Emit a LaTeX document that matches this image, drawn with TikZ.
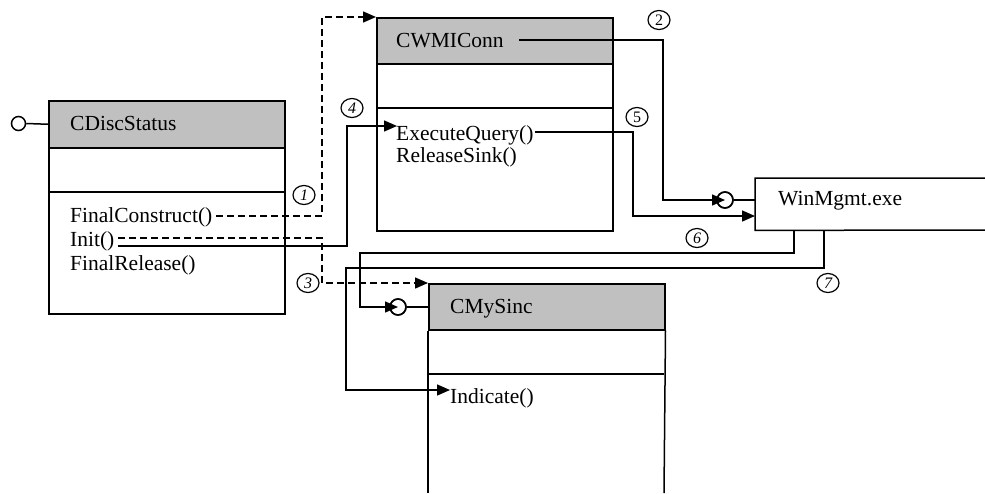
\documentclass[tikz,border=0pt]{standalone}
\usepackage{fontspec}
\setmainfont{Liberation Serif}
\usetikzlibrary{arrows.meta,shapes.geometric,calc}
\definecolor{hgray}{HTML}{C0C0C0}
\begin{document}
\begin{tikzpicture}[x=1pt,y=-1pt,
  ln/.style={line width=1.5pt},
  arr/.style={-{Triangle[length=13pt,width=11pt]}},
  dsh/.style={dash pattern=on 7pt off 4pt},
  hdr/.style={draw,fill=hgray,line width=1.5pt,anchor=north west,inner sep=0pt,minimum width=236pt},
  bdy/.style={draw,line width=1.5pt,anchor=north west,inner sep=0pt,minimum width=236pt},
  txt/.style={anchor=base west,inner sep=0pt,font=\fontsize{21.5}{25}\selectfont},
  num/.style={draw,ellipse,line width=1.2pt,inner sep=0pt,minimum width=22pt,minimum height=19pt,font=\fontsize{16}{16}\selectfont},
  lolli/.style={draw,circle,line width=1.5pt,inner sep=0pt,fill=white}]
\useasboundingbox (0,0) rectangle (985,493);

% CDiscStatus
\node[bdy,minimum height=166pt] (b1) at (48,147) {};
\node[hdr,minimum height=47pt] (h1) at (48,100) {};
\draw[ln] (48,192) -- (284,192);
\node[lolli,minimum size=14pt] (lp1) at (18.5,123.5) {};
\draw[ln] (lp1.east) -- (h1.west);
\node[txt] (t1) at (70,130) {CDiscStatus};
\node[txt] (fc) at (70,222) {FinalConstruct()};
\node[txt] (in) at (70,246) {Init()};
\node[txt] (fr) at (70,270) {FinalRelease()};

% CWMIConn
\node[bdy,minimum height=167pt] (b2) at (376,63) {};
\node[hdr,minimum height=46pt] (h2) at (376,17) {};
\draw[ln] (376,108) -- (612,108);
\node[txt] (t2) at (396,47) {CWMIConn};
\node[txt] (eq) at (396,140) {ExecuteQuery()};
\node[txt] (rs) at (396,162) {ReleaseSink()};

% WinMgmt
\node[inner sep=0pt,minimum width=230pt,minimum height=52pt,anchor=north west] (wm) at (755,178) {};
\draw[ln] (985,178) -- (wm.north west) -- (wm.south west) -- (985,230);
\node[txt] (t4) at (778,205) {WinMgmt.exe};
\node[lolli,minimum size=16pt] (lp2) at (725,200) {};
\draw[ln] (lp2.east) -- (755,200);

% CMySinc
\node[hdr,minimum height=46pt] (h3) at (428,283) {};
\draw[ln] (h3.south west) -- (428,493);
\draw[ln] (h3.south east) -- (664,493);
\draw[ln] (428,374) -- (664,374);
\node[txt] (t3) at (450,313) {CMySinc};
\node[txt] (ind) at (450,403) {Indicate()};
\node[lolli,minimum size=16pt] (lp3) at (398,307) {};
\draw[ln] (lp3.east) -- (428,307);

% connector end points
\coordinate (c1) at (216,216);
\coordinate (c3) at (118,238);
\coordinate (c4) at (118,246);
\coordinate (c2) at (519,40);
\coordinate (c5) at (535,132);
\coordinate (c6) at (794,230);
\coordinate (c7) at (824,230);
\coordinate (e4) at (397,126);
\coordinate (e5) at (755,216);
\coordinate (e7) at (450,390);

% connectors
\draw[ln,dsh,arr] (c1) -- (322,216) -- (322,17) -- (h2.north west);
\draw[ln,dsh,arr] (c3) -- (322,238) -- (322,283) -- (h3.north west);
\draw[ln,arr] (c4) -- (347,246) -- (347,126) -- (e4);
\draw[ln,arr] (c2) -- (663,40) -- (663,200) -- (lp2.center);
\draw[ln,arr] (c5) -- (633,132) -- (633,216) -- (e5);
\draw[ln,arr] (c6) -- (794,253) -- (360,253) -- (360,307) -- (lp3.center);
\draw[ln,arr] (c7) -- (824,268) -- (346,268) -- (346,390) -- (e7);
\node[lolli,minimum size=16pt,fill=none] at (lp2) {};
\node[lolli,minimum size=16pt,fill=none] at (lp3) {};

% numbers
\node[num] (n1) at (304,195) {\itshape 1};
\node[num] (n2) at (659,20) {2};
\node[num] (n3) at (308,283) {\itshape 3};
\node[num] (n4) at (352,108) {\itshape 4};
\node[num] (n5) at (637,117) {5};
\node[num] (n6) at (697,238) {\itshape 6};
\node[num] (n7) at (828,283) {\itshape 7};
\end{tikzpicture}
\end{document}
